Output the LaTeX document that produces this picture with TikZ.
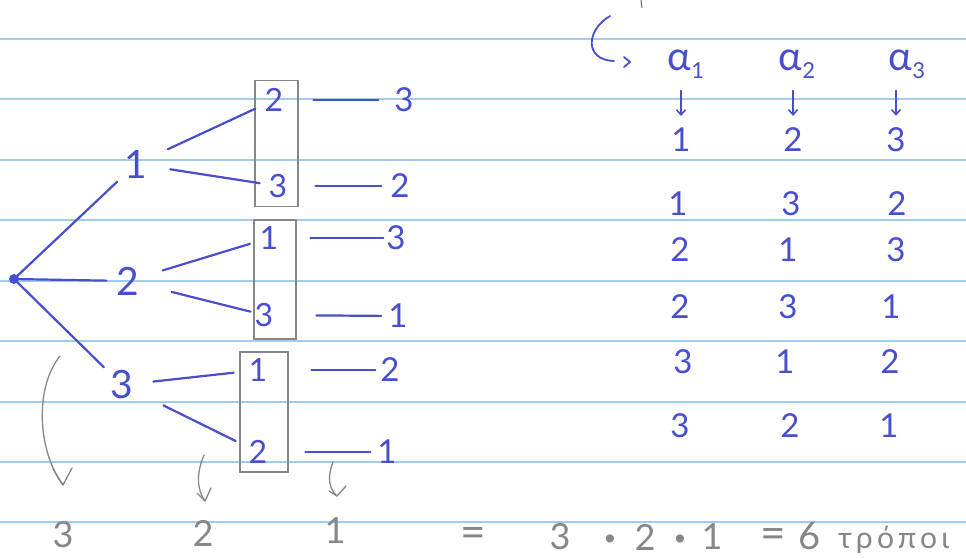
\documentclass[tikz,border=0pt]{standalone}
\usepackage{fontspec}
\setmainfont{Lato}
\usetikzlibrary{arrows.meta}
\definecolor{ink}{RGB}{72,78,205}
\definecolor{pencil}{RGB}{135,135,135}
\definecolor{ruling}{RGB}{160,205,235}
\begin{document}
\begin{tikzpicture}[x=1pt,y=-1pt,
  t/.style={text=ink, font=\fontsize{33}{36}\selectfont, inner sep=2pt},
  big/.style={text=ink, font=\fontsize{39}{42}\selectfont, inner sep=3pt},
  sm/.style={text=ink, font=\fontsize{32}{36}\selectfont, inner sep=2pt},
  gt/.style={text=pencil, font=\fontsize{36}{40}\selectfont, inner sep=2pt},
  al/.style={text=ink, font=\fontsize{40}{44}\selectfont, inner sep=2pt},
  edge/.style={draw=ink, line width=2.2pt, line cap=round},
  box/.style={draw=pencil, line width=1.4pt, inner sep=0pt},
  gline/.style={draw=pencil, line width=1.3pt, line cap=round, line join=round},
  darrow/.style={draw=ink, line width=1.6pt, line cap=round, -{Straight Barb[length=5pt,width=9pt]}},
]
\useasboundingbox (0,0) rectangle (966,558);
\fill[white] (0,0) rectangle (966,558);
% ruled paper
\foreach \yy in {39,99,160,220,281,341,402,462,522}
  \draw[ruling, line width=1.4pt] (0,\yy) -- (966,\yy);

% root and first level
\coordinate (root) at (14,279);
\fill[ink] (root) circle (5);
\node[big] (n1) at (136,164) {1};
\node[big] (n2) at (128,281) {2};
\node[big] (n3) at (122,385) {3};
\draw[edge, shorten >=6pt] (root) -- (n1);
\draw[edge, shorten >=7pt] (root) -- (n2);
\draw[edge, shorten >=5pt] (root) -- (n3);

% boxes
\node[box, minimum width=43pt, minimum height=126pt] (box1) at (276.5,143.5) {};
\node[box, minimum width=42pt, minimum height=119pt] (box2) at (275,279.5) {};
\node[box, minimum width=48pt, minimum height=120pt] (box3) at (264,412) {};

% second level
\node[sm] (a12) at (274,100) {2};
\node[sm] (a13) at (278,186) {3};
\node[sm] (a21) at (269,238) {1};
\node[sm] (a23) at (264,315) {3};
\node[sm] (a31) at (258,370) {1};
\node[sm] (a32) at (258,452) {2};
\draw[edge, shorten <=19pt, shorten >=8pt] (n1) -- (a12);
\draw[edge, shorten <=20pt, shorten >=7pt] (n1) -- (a13);
\draw[edge, shorten <=21pt, shorten >=8pt] (n2) -- (a21);
\draw[edge, shorten <=30pt, shorten >=2pt] (n2) -- (a23);
\draw[edge, shorten <=17pt, shorten >=13pt] (n3) -- (a31);
\draw[edge, shorten <=30pt, shorten >=12pt] (n3) -- (a32);

% third level
\node[t] (c13) at (404,100) {3};
\node[t] (c12) at (400,186) {2};
\node[t] (c23) at (396,238) {3};
\node[t] (c21) at (398,316) {1};
\node[t] (c32) at (390,370) {2};
\node[t] (c31) at (387,452) {1};
\draw[edge, shorten <=28pt, shorten >=14pt] (a12) -- (c13);
\draw[edge, shorten <=26pt, shorten >=7pt] (a13) -- (c12);
\draw[edge, shorten <=30pt, shorten >=1pt] (a21) -- (c23);
\draw[edge, shorten <=41pt, shorten >=5pt] (a23) -- (c21);
\draw[edge, shorten <=42pt, shorten >=3pt] (a31) -- (c32);
\draw[edge, shorten <=36pt, shorten >=5pt] (a32) -- (c31);

% pencil arrows and bottom counts
\coordinate (g1s) at (60,356);
\coordinate (g1e) at (63,485);
\coordinate (g2s) at (204,455);
\coordinate (g2e) at (205,501);
\coordinate (g3s) at (333,462);
\coordinate (g3e) at (337,496);
\draw[gline] (g1s) .. controls (34,388) and (38,452) .. (g1e);
\draw[gline] (53,469) -- (g1e) -- (72,468);
\draw[gline] (g2s) .. controls (196,474) and (197,490) .. (g2e);
\draw[gline] (197,493) -- (g2e) -- (211,488);
\draw[gline] (g3s) .. controls (327,477) and (329,489) .. (g3e);
\draw[gline] (329,491) -- (g3e) -- (346,486);
\node[gt] (b3) at (63,535) {3};
\node[gt] (b2) at (203,533) {2};
\node[gt] (b1) at (335,531) {1};
\node[gt, font=\fontsize{44}{48}\selectfont] (eq1) at (473,537) {=};
\node[gt] (p3) at (560,537) {3};
\node[gt, font=\fontsize{22}{24}\selectfont] (d1) at (610,540) {•};
\node[gt] (p2) at (645,537) {2};
\node[gt, font=\fontsize{22}{24}\selectfont] (d2) at (680,540) {•};
\node[gt] (p1) at (712,537) {1};
\node[gt, font=\fontsize{44}{48}\selectfont] (eq2) at (773,538) {=};
\node[gt, font=\fontsize{38}{42}\selectfont] (six) at (810,536) {6};
\node[gt, anchor=west, font=\fontsize{30}{34}\selectfont\addfontfeatures{LetterSpace=14}] (tropoi) at (836,540) {τρόποι};

% right side: hook, alphas, table
\draw[ink, line width=0.9pt] (641,0) -- (642,8);
\coordinate (hks) at (610,16);
\coordinate (hke) at (614,61);
\draw[ink, line width=1.8pt, line cap=round] (hks) .. controls (586,30) and (584,60) .. (hke);
\draw[ink, line width=1.8pt, line cap=round, line join=round] (624,57) -- (630,62) -- (624,67);
\node[al] (al1) at (686,64) {α\raisebox{-8pt}{\fontsize{22}{24}\selectfont 1}};
\node[al] (al2) at (797,64) {α\raisebox{-8pt}{\fontsize{22}{24}\selectfont 2}};
\node[al] (al3) at (907,64) {α\raisebox{-8pt}{\fontsize{22}{24}\selectfont 3}};

\node[t] (r11) at (681,140) {1};
\node[t] (r12) at (793,140) {2};
\node[t] (r13) at (896,140) {3};
\node[t] (r21) at (678,204) {1};
\node[t] (r22) at (791,204) {3};
\node[t] (r23) at (897,204) {2};
\node[t] (r31) at (680,250) {2};
\node[t] (r32) at (788,250) {1};
\node[t] (r33) at (896,250) {3};
\node[t] (r41) at (680,307) {2};
\node[t] (r42) at (788,307) {3};
\node[t] (r43) at (891,307) {1};
\node[t] (r51) at (683,362) {3};
\node[t] (r52) at (785,362) {1};
\node[t] (r53) at (890,362) {2};
\node[t] (r61) at (680,426) {3};
\node[t] (r62) at (790,426) {2};
\node[t] (r63) at (889,426) {1};

\draw[darrow, shorten <=10pt, shorten >=10pt] (al1.south -| r11) -- (r11.north);
\draw[darrow, shorten <=10pt, shorten >=10pt] (al2.south -| r12) -- (r12.north);
\draw[darrow, shorten <=10pt, shorten >=10pt] (al3.south -| r13) -- (r13.north);
\end{tikzpicture}
\end{document}
